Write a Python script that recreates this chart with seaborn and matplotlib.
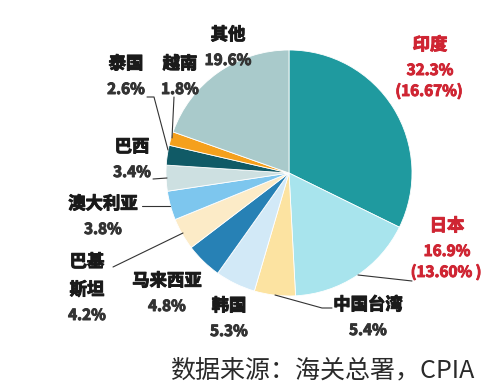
import numpy as np
import seaborn as sns
import matplotlib.pyplot as plt
import matplotlib.patheffects as pe

# share of exports by destination (clockwise from 12 o'clock)
countries = ['印度', '日本', '中国台湾', '韩国', '马来西亚', '巴基斯坦',
             '澳大利亚', '巴西', '泰国', '越南', '其他']
shares = [32.3, 16.9, 5.4, 5.3, 4.8, 4.2, 3.8, 3.4, 2.6, 1.8, 19.6]
prev_shares = {'印度': '(16.67%)', '日本': '(13.60% )'}
source = '数据来源：海关总署，CPIA'

colors = ['#1f9a9f', '#a8e4ed', '#fce3a1', '#d2e9f7', '#2781b5', '#fcebc7',
          '#7dc6ee', '#cde0e1', '#105a66', '#f5a01c', '#a9cacb']

sns.set_theme(style='white')
plt.rcParams['font.family'] = ['Noto Sans CJK SC', 'DejaVu Sans']

W, H = 497, 389
fig = plt.figure(figsize=(W / 100, H / 100), dpi=100)
ax = fig.add_axes([0, 0, 1, 1])

# pie in pixel coordinates (y measured from bottom)
ax.pie(shares, colors=colors, startangle=90, counterclock=False,
       center=(289, H - 173), radius=123,
       wedgeprops=dict(edgecolor='white', linewidth=0.6))
ax.set_xlim(0, W)
ax.set_ylim(0, H)
ax.set_aspect('equal')
ax.axis('off')

# label layout: position of the name in px from top-left
label_pos = {
    '印度': (430, 45),
    '日本': (447, 226),
    '中国台湾': (368, 305),
    '韩国': (229, 306),
    '马来西亚': (167, 281),
    '巴基斯坦': (87, 262),
    '澳大利亚': (103, 204),
    '巴西': (132, 147),
    '泰国': (126, 64),
    '越南': (180, 64),
    '其他': (228, 35),
}
red = '#cf2533'
fs = 12.5


def label(x, y, s, color, size):
    # fake a heavier weight with a thin stroke of the same colour
    ax.text(x, H - y, s, ha='center', va='center', fontsize=size,
            fontweight='bold', color=color,
            path_effects=[pe.withStroke(linewidth=0.7, foreground=color)])


for name, share in zip(countries, shares):
    x, y = label_pos[name]
    c = red if name in prev_shares else '#1a1a1a'
    pc = red if name in prev_shares else '#333333'
    if name == '巴基斯坦':
        label(x, y, '巴基', c, fs)
        y += 28
        label(x, y, '斯坦', c, fs)
    else:
        label(x, y, name, c, fs)
    label(x, y + 25, f'{share}%', pc, 11)
    if name in prev_shares:
        label(x - 1, y + 46, prev_shares[name], pc, 11)

# leader lines
leaders = [
    [(147, 97), (154, 97), (168, 150)],
    [(174, 97), (172, 138)],
    [(153, 179), (167, 178)],
    [(142, 206), (170, 206)],
    [(113, 267), (183, 233)],
    [(275, 295), (322, 308), (332, 308)],
    [(358, 275), (412, 281)],
]
for pts in leaders:
    xs = [p[0] for p in pts]
    ys = [H - p[1] for p in pts]
    ax.plot(xs, ys, color='#333333', lw=0.8)

ax.text(170, H - 370, source, ha='left', va='center', fontsize=18,
        color='#2a2a2a')

fig.savefig('out.png', dpi=100)
